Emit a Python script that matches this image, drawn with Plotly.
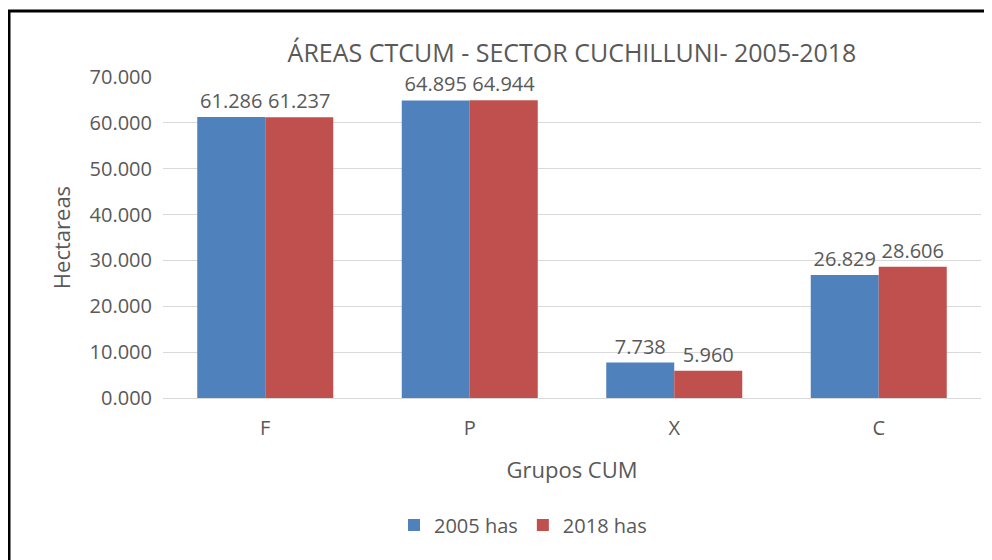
import plotly.graph_objects as go

categories = ["F", "P", "X", "C"]
series_names = ["2005 has", "2018 has"]
values_2005 = [61.286, 64.895, 7.738, 26.829]
values_2018 = [61.237, 64.944, 5.960, 28.606]
y_ticks = [0, 10, 20, 30, 40, 50, 60, 70]

colors = ["#4F81BD", "#C0504D"]
FONT = "Open Sans"
GREY = "#595959"

fig = go.Figure()
for name, vals, col in zip(series_names, [values_2005, values_2018], colors):
    fig.add_trace(go.Bar(
        x=categories, y=vals, name=name,
        marker=dict(color=col, line=dict(width=0)),
        text=[f"{v:.3f}" for v in vals],
        textposition="outside",
        constraintext="none",
        cliponaxis=False,
        textfont=dict(family=FONT, size=20, color=GREY),
    ))

# page has an 8px body margin, so figure coords = page coords - 8
W, H = 984, 552
L, R, T, B = 155, 11, 69, 162
pw, ph = W - L - R, H - T - B

fig.update_layout(
    width=W, height=H,
    margin=dict(l=L, r=R, t=T, b=B),
    paper_bgcolor="white", plot_bgcolor="white",
    barmode="group", bargap=0.335, bargroupgap=0,
    font=dict(family=FONT, color=GREY),
    title=dict(text="ÁREAS CTCUM - SECTOR CUCHILLUNI- 2005-2018",
               x=564 / W, xanchor="center", y=1 - 45 / H, yanchor="middle",
               font=dict(family=FONT, size=25, color=GREY)),
    xaxis=dict(title=dict(text="Grupos CUM", font=dict(size=22, color=GREY), standoff=22),
               tickfont=dict(size=20, color=GREY), showgrid=False, ticks="",
               ticklabelstandoff=12,
               showline=True, linecolor="#D9D9D9", linewidth=1),
    yaxis=dict(title=dict(text="Hectareas", font=dict(size=22, color=GREY), standoff=12),
               range=[0, 70], tickvals=y_ticks, tickformat=".3f",
               tickfont=dict(size=20, color=GREY), gridcolor="#D9D9D9",
               ticklabelstandoff=10,
               zeroline=False, ticks="", showline=False),
    legend=dict(orientation="h", x=(515 - L) / pw, xanchor="center",
                y=-(517 - (T + ph)) / ph, yanchor="middle",
                font=dict(size=20, color=GREY), itemwidth=30),
    shapes=[dict(type="rect", xref="paper", yref="paper",
                 x0=(1 - L) / pw, x1=(1010 - L) / pw,
                 y0=-(575 - (T + ph)) / ph, y1=1 + (T - 3) / ph,
                 line=dict(color="black", width=3), fillcolor="rgba(0,0,0,0)",
                 layer="above")],
)

fig.write_html("out.html")
